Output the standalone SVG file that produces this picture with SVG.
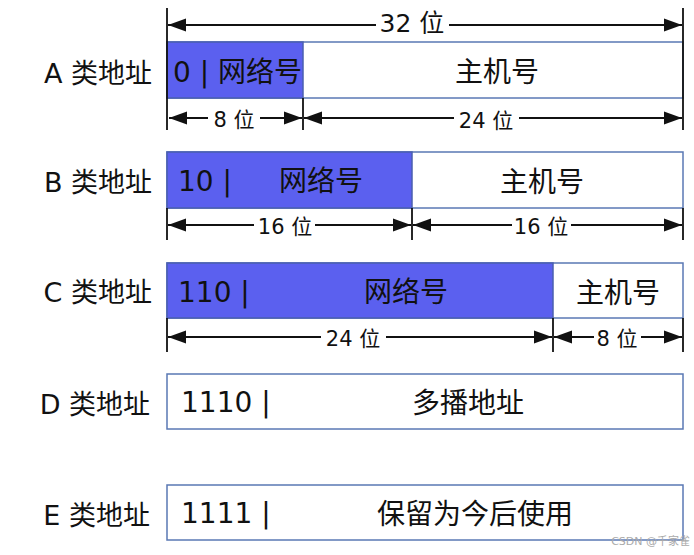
<svg xmlns="http://www.w3.org/2000/svg" width="694" height="555" viewBox="0 0 694 555">
<style>
text{font-family:"DejaVu Sans","Noto Sans CJK SC",sans-serif;fill:#111}
.lbl{font-size:27px;text-anchor:end}
.in{font-size:28px}
.mid{text-anchor:middle}
.dim{font-size:21px;text-anchor:middle}
.net{fill:#5b60ef;stroke:#4a5fb0;stroke-width:1.5}
.host{fill:#fff;stroke:#5a78b4;stroke-width:1.5}
.tick{stroke:#111;stroke-width:1.8}
.arr{stroke:#111;stroke-width:1.8;fill:none}
.wm{font-size:11px;fill:#aaa;text-anchor:end}
</style>
<defs>
<marker id="ah" markerUnits="userSpaceOnUse" markerWidth="19" markerHeight="14" refX="18" refY="7" orient="auto-start-reverse">
<path d="M0,0.5 L18,7 L0,13.5 z" fill="#111"/>
</marker>
</defs>

<g id="rowA">
<text class="lbl" x="152" y="83">A 类地址</text>
<rect class="host" x="167" y="42" width="516" height="56"/>
<rect class="net" x="167" y="42" width="136" height="56"/>
<text class="in" x="173" y="82">0 | 网络号</text>
<text class="in mid" x="497" y="82">主机号</text>
</g>

<g id="rowB">
<text class="lbl" x="152" y="192">B 类地址</text>
<rect class="host" x="167" y="152" width="516" height="56"/>
<rect class="net" x="167" y="152" width="245" height="56"/>
<text class="in" x="178" y="191">10 |</text>
<text class="in mid" x="321" y="191">网络号</text>
<text class="in mid" x="542" y="192">主机号</text>
</g>

<g id="rowC">
<text class="lbl" x="152" y="302">C 类地址</text>
<rect class="host" x="167" y="263" width="516" height="55"/>
<rect class="net" x="167" y="263" width="386" height="55"/>
<text class="in" x="178" y="302">110 |</text>
<text class="in mid" x="406" y="302">网络号</text>
<text class="in mid" x="618" y="303">主机号</text>
</g>

<g id="rowD">
<text class="lbl" x="150" y="414">D 类地址</text>
<rect class="host" x="167" y="374" width="516" height="55"/>
<text class="in" x="181" y="412">1110 |</text>
<text class="in mid" x="468" y="413">多播地址</text>
</g>

<g id="rowE">
<text class="lbl" x="150" y="525">E 类地址</text>
<rect class="host" x="167" y="485" width="516" height="55"/>
<text class="in" x="181" y="523">1111 |</text>
<text class="in mid" x="475" y="524">保留为今后使用</text>
</g>

<g id="connectors">
<line class="tick" x1="167" y1="8" x2="167" y2="130"/>
<line class="tick" x1="683" y1="8" x2="683" y2="130"/>
<line class="tick" x1="303" y1="98" x2="303" y2="130"/>
<line class="tick" x1="167" y1="208" x2="167" y2="240"/>
<line class="tick" x1="412" y1="208" x2="412" y2="240"/>
<line class="tick" x1="683" y1="208" x2="683" y2="240"/>
<line class="tick" x1="167" y1="318" x2="167" y2="352"/>
<line class="tick" x1="553" y1="318" x2="553" y2="352"/>
<line class="tick" x1="683" y1="318" x2="683" y2="352"/>
<line class="arr" x1="376" y1="25" x2="168" y2="25" marker-end="url(#ah)"/>
<line class="arr" x1="449" y1="25" x2="682" y2="25" marker-end="url(#ah)"/>
<text class="dim" x="412" y="32" style="font-size:25px">32 位</text>
<line class="arr" x1="208" y1="118" x2="169" y2="118" marker-end="url(#ah)"/>
<line class="arr" x1="260" y1="118" x2="302" y2="118" marker-end="url(#ah)"/>
<text class="dim" x="234" y="127">8 位</text>
<line class="arr" x1="454" y1="118" x2="304" y2="118" marker-end="url(#ah)"/>
<line class="arr" x1="519" y1="118" x2="682" y2="118" marker-end="url(#ah)"/>
<text class="dim" x="486" y="128">24 位</text>
<line class="arr" x1="254" y1="225" x2="168" y2="225" marker-end="url(#ah)"/>
<line class="arr" x1="315" y1="225" x2="411" y2="225" marker-end="url(#ah)"/>
<text class="dim" x="285" y="234">16 位</text>
<line class="arr" x1="512" y1="225" x2="413" y2="225" marker-end="url(#ah)"/>
<line class="arr" x1="571" y1="225" x2="682" y2="225" marker-end="url(#ah)"/>
<text class="dim" x="541" y="234">16 位</text>
<line class="arr" x1="321" y1="337" x2="168" y2="337" marker-end="url(#ah)"/>
<line class="arr" x1="386" y1="337" x2="552" y2="337" marker-end="url(#ah)"/>
<text class="dim" x="353" y="346">24 位</text>
<line class="arr" x1="594" y1="337" x2="554" y2="337" marker-end="url(#ah)"/>
<line class="arr" x1="641" y1="337" x2="682" y2="337" marker-end="url(#ah)"/>
<text class="dim" x="617" y="346">8 位</text>
</g>

<text class="wm" x="690" y="545">CSDN @千家雀</text>
</svg>
